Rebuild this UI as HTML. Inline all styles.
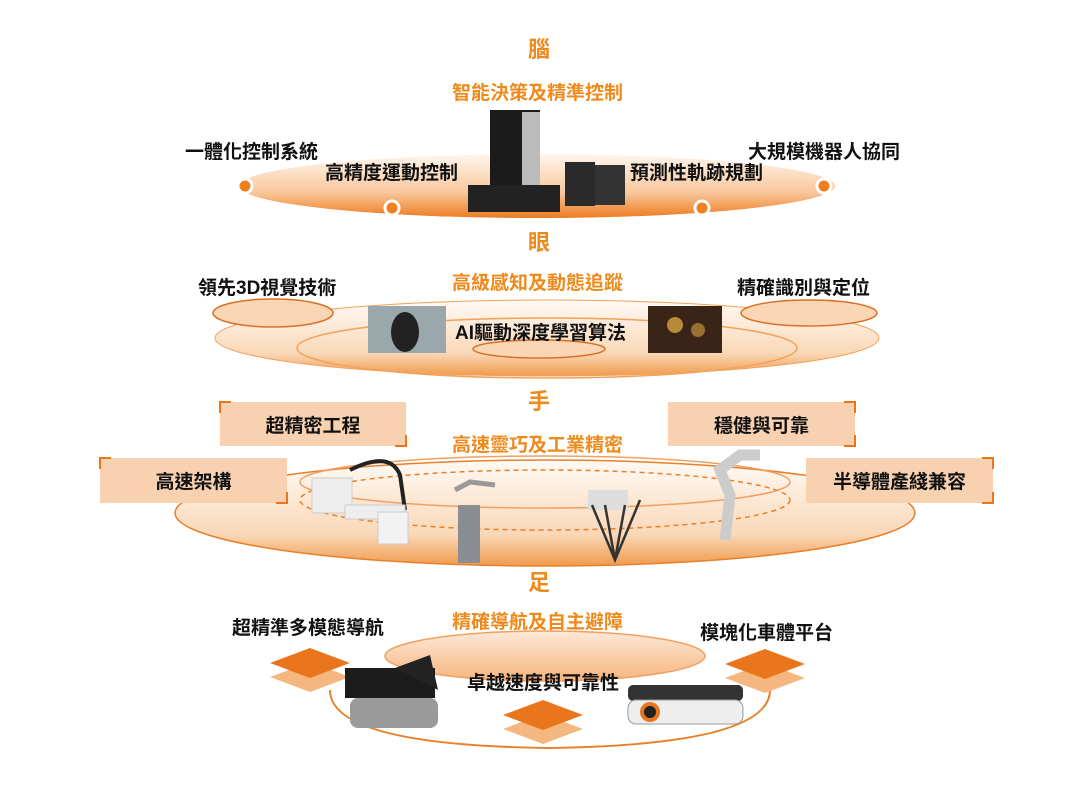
<!DOCTYPE html>
<html><head><meta charset="utf-8"><style>
html,body{margin:0;padding:0;background:#fff}
#c{position:relative;width:1080px;height:785px;overflow:hidden;font-family:"Liberation Sans","Noto Sans CJK TC",sans-serif;font-weight:bold}
.t{position:absolute;white-space:nowrap;color:#111;font-size:19px;line-height:1}
.o{color:#ee8a1c;font-size:19px}
.h{color:#ee8a1c;font-size:22px}
.box{position:absolute;background:#f8d2b0;display:flex;align-items:center;justify-content:center;font-size:19px;color:#111}
.box:before,.box:after{content:"";position:absolute;width:10px;height:10px;border:2px solid #e8761c}
.box:before{left:-1px;top:-1px;border-right:none;border-bottom:none}
.box:after{right:-1px;bottom:-1px;border-left:none;border-top:none}
.b2:before{left:auto;right:-1px;border-left:none;border-right:2px solid #e8761c}
</style></head><body><div id="c">
<svg width="1080" height="785" style="position:absolute;left:0;top:0">
<defs>
<linearGradient id="g1" x1="0" y1="0" x2="0" y2="1"><stop offset="0" stop-color="#fff6ee"/><stop offset="0.6" stop-color="#f8c79c"/><stop offset="1" stop-color="#ec7a1e"/></linearGradient>
<linearGradient id="g2" x1="0" y1="0" x2="0" y2="1"><stop offset="0" stop-color="#fffaf5"/><stop offset="0.7" stop-color="#fad8b8"/><stop offset="1" stop-color="#f09a4c"/></linearGradient>
<linearGradient id="g3" x1="0" y1="0" x2="0" y2="1"><stop offset="0" stop-color="#fde9d8"/><stop offset="1" stop-color="#f6b57e"/></linearGradient>
</defs>
<!-- brain -->
<ellipse cx="537" cy="186" rx="298" ry="32" fill="url(#g1)"/>
<g fill="#ef7f1f" stroke="#fff" stroke-width="3">
<circle cx="245" cy="186" r="7"/><circle cx="392" cy="208" r="7"/><circle cx="702" cy="208" r="7"/><circle cx="824" cy="186" r="7"/></g>
<rect x="490" y="110" width="50" height="85" fill="#1b1b1b"/><rect x="522" y="112" width="18" height="80" fill="#bbb"/>
<rect x="468" y="185" width="92" height="27" fill="#222"/>
<rect x="565" y="162" width="30" height="44" fill="#2a2a2a"/><rect x="595" y="165" width="30" height="40" fill="#333"/>
<!-- eye -->
<ellipse cx="547" cy="338" rx="332" ry="38" fill="url(#g2)" stroke="#f3a15a" stroke-width="1"/>
<ellipse cx="547" cy="348" rx="250" ry="30" fill="none" stroke="#f3a15a" stroke-width="1.5"/>
<ellipse cx="273" cy="313" rx="60" ry="14" fill="#fbd6b4" stroke="#d97026" stroke-width="1.5"/>
<ellipse cx="809" cy="313" rx="68" ry="13" fill="#fbd6b4" stroke="#d97026" stroke-width="1.5"/>
<ellipse cx="539" cy="349" rx="66" ry="9" fill="#fbd6b4" stroke="#d97026" stroke-width="1.5"/>
<rect x="368" y="306" width="78" height="47" fill="#9aa7ab"/><ellipse cx="405" cy="332" rx="14" ry="20" fill="#222"/>
<rect x="648" y="306" width="74" height="47" fill="#3a2418"/><circle cx="675" cy="325" r="8" fill="#b68a3a"/><circle cx="698" cy="330" r="7" fill="#9a7030"/>
<!-- hand -->
<ellipse cx="545" cy="513" rx="370" ry="53" fill="url(#g2)" stroke="#e8802a" stroke-width="1.5"/>
<ellipse cx="545" cy="482" rx="245" ry="26" fill="none" stroke="#f0a060" stroke-width="1.5"/>
<ellipse cx="545" cy="500" rx="245" ry="30" fill="none" stroke="#e8802a" stroke-width="1.5" stroke-dasharray="5,4"/>
<path d="M350 470 Q390 450 400 475 L405 510" stroke="#222" stroke-width="4" fill="none"/>
<rect x="312" y="478" width="40" height="35" fill="#eee" stroke="#ccc"/><rect x="345" y="505" width="60" height="14" fill="#eee" stroke="#ccc"/><rect x="378" y="512" width="30" height="32" fill="#f2f2f2" stroke="#ccc"/>
<rect x="458" y="505" width="22" height="58" fill="#8a8e92"/><path d="M455 490 L470 482 L495 485" stroke="#999" stroke-width="5" fill="none"/>
<rect x="588" y="490" width="40" height="20" fill="#ddd"/><path d="M592 505 L615 560 L640 500 M605 505 L615 560 M625 505 L615 560" stroke="#333" stroke-width="2.5" fill="none"/>
<path d="M725 540 L730 495 L720 470 L740 455 L760 455" stroke="#ccc" stroke-width="11" fill="none"/>
<!-- foot -->
<path d="M330 690 Q330 745 548 748 Q770 745 770 690" fill="none" stroke="#e8802a" stroke-width="2"/>
<ellipse cx="545" cy="656" rx="160" ry="25" fill="url(#g3)" stroke="#f0a060" stroke-width="1.5"/>
<g>
<polygon points="310,662 350,677 310,692 270,677" fill="#f5b780"/><polygon points="310,648 350,663 310,678 270,663" fill="#e9751d"/>
<polygon points="543,714 583,729 543,744 503,729" fill="#f5b780"/><polygon points="543,700 583,715 543,730 503,715" fill="#e9751d"/>
<polygon points="765,663 805,678 765,693 725,678" fill="#f5b780"/><polygon points="765,649 805,664 765,679 725,664" fill="#e9751d"/>
</g>
<rect x="345" y="668" width="90" height="30" fill="#1c1c1c"/><path d="M395 668 L430 655 L438 690 Z" fill="#222"/>
<rect x="350" y="698" width="88" height="30" rx="8" fill="#9a9a9a"/>
<rect x="628" y="685" width="115" height="16" rx="5" fill="#333"/><rect x="628" y="700" width="115" height="24" rx="8" fill="#eee" stroke="#999"/><circle cx="650" cy="712" r="10" fill="#e9751d"/><circle cx="650" cy="712" r="6" fill="#222"/>
</svg>
<div class="t h" style="left:528px;top:39px">腦</div>
<div class="t o" style="left:452px;top:84px">智能決策及精準控制</div>
<div class="t" style="left:185px;top:143px">一體化控制系統</div>
<div class="t" style="left:325px;top:164px">高精度運動控制</div>
<div class="t" style="left:630px;top:164px">預測性軌跡規劃</div>
<div class="t" style="left:748px;top:143px">大規模機器人協同</div>
<div class="t h" style="left:528px;top:232px">眼</div>
<div class="t o" style="left:452px;top:274px">高級感知及動態追蹤</div>
<div class="t" style="left:198px;top:279px">領先3D視覺技術</div>
<div class="t" style="left:737px;top:279px">精確識別與定位</div>
<div class="t" style="left:455px;top:324px">AI驅動深度學習算法</div>
<div class="t h" style="left:528px;top:391px">手</div>
<div class="box" style="left:220px;top:402px;width:186px;height:44px">超精密工程</div>
<div class="box b2" style="left:668px;top:402px;width:187px;height:44px">穩健與可靠</div>
<div class="box" style="left:100px;top:458px;width:187px;height:45px">高速架構</div>
<div class="box b2" style="left:806px;top:458px;width:187px;height:45px">半導體產綫兼容</div>
<div class="t o" style="left:452px;top:436px">高速靈巧及工業精密</div>
<div class="t h" style="left:528px;top:572px">足</div>
<div class="t o" style="left:452px;top:613px">精確導航及自主避障</div>
<div class="t" style="left:232px;top:619px">超精準多模態導航</div>
<div class="t" style="left:700px;top:624px">模塊化車體平台</div>
<div class="t" style="left:467px;top:674px">卓越速度與可靠性</div>
</div></body></html>
